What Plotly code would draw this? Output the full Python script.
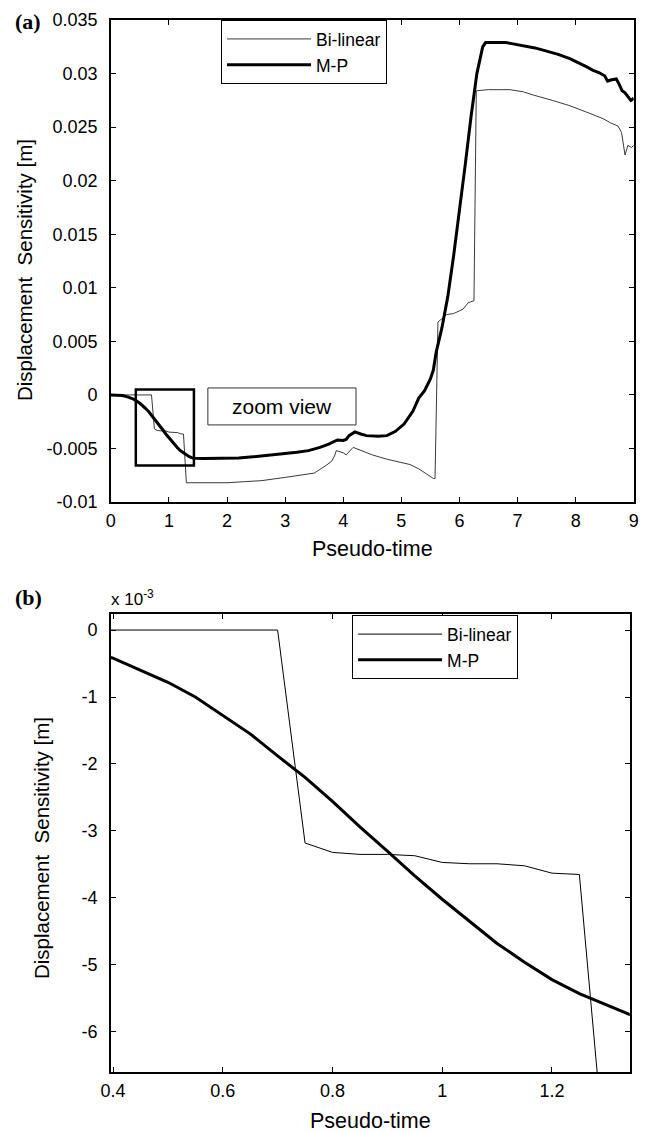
import plotly.graph_objects as go

# values, sensitivity in units of 1e-3 m
t_mp = [0, 0.1, 0.2, 0.3, 0.4, 0.5, 0.55, 0.6, 0.65, 0.7, 0.75, 0.8, 0.85, 0.9, 0.95,
        1.0, 1.05, 1.1, 1.15, 1.2, 1.25, 1.3, 1.35, 1.4, 1.45, 1.6, 1.8, 2.0, 2.2, 2.4,
        2.6, 2.8, 3.0, 3.2, 3.4, 3.6, 3.75, 3.85, 3.9, 4.0, 4.05, 4.1, 4.2, 4.3, 4.4,
        4.6, 4.75, 4.9, 5.05, 5.2, 5.3, 5.4, 5.5, 5.55, 5.6, 5.7, 5.8, 5.9, 6.0, 6.1,
        6.2, 6.3, 6.4, 6.45, 6.6, 6.8, 6.9, 7.1, 7.3, 7.5, 7.7, 7.9, 8.1, 8.2, 8.3,
        8.4, 8.5, 8.55, 8.6, 8.7, 8.75, 8.8, 8.85, 8.9, 8.95, 9.0]
s_mp = [0, -0.01, -0.06, -0.2, -0.42, -0.78, -1.0, -1.27, -1.55, -1.88, -2.2, -2.56,
        -2.94, -3.3, -3.67, -4.02, -4.35, -4.68, -4.96, -5.22, -5.43, -5.6, -5.77,
        -5.88, -5.92, -5.93, -5.93, -5.93, -5.9, -5.8, -5.7, -5.6, -5.45, -5.35, -5.2,
        -4.9, -4.6, -4.35, -4.2, -4.25, -4.15, -3.8, -3.45, -3.65, -3.8, -3.85, -3.8,
        -3.4, -2.7, -1.5, -0.3, 0.4, 1.5, 2.3, 4.0, 6.3, 9.2, 13.0, 17.0, 21.5, 26.0,
        30.0, 32.5, 32.9, 32.9, 32.9, 32.8, 32.6, 32.4, 32.1, 31.8, 31.4, 30.9, 30.6,
        30.3, 30.1, 29.8, 29.3, 29.4, 29.5, 29.0, 28.4, 28.2, 27.8, 27.5, 27.7]

t_bl = [0, 0.7, 0.75, 0.8, 0.85, 0.9, 0.95, 1.0, 1.05, 1.1, 1.15, 1.2, 1.25, 1.3, 1.6,
        2.0, 2.3, 2.6, 3.0, 3.3, 3.5, 3.7, 3.8, 3.85, 3.88, 4.0, 4.05, 4.17, 4.3, 4.5,
        4.75, 5.0, 5.15, 5.3, 5.45, 5.55, 5.58, 5.63, 5.78, 5.9, 6.06, 6.15, 6.25, 6.29,
        6.5, 6.87, 7.1, 7.27, 7.6, 7.9, 8.19, 8.47, 8.6, 8.73, 8.79, 8.85, 8.9, 8.96, 9.0]
s_bl = [0, 0, -3.18, -3.32, -3.35, -3.35, -3.37, -3.47, -3.49, -3.49, -3.52, -3.63,
        -3.65, -8.2, -8.2, -8.2, -8.1, -8.0, -7.7, -7.5, -7.3, -6.6, -6.2, -5.7, -5.2,
        -5.4, -5.6, -4.9, -5.2, -5.6, -6.0, -6.3, -6.5, -6.9, -7.4, -7.8, -7.8, 6.8,
        7.5, 7.6, 8.0, 8.6, 8.8, 28.4, 28.5, 28.5, 28.3, 28.0, 27.5, 27.0, 26.4, 25.8,
        25.4, 25.1, 24.5, 22.4, 23.3, 23.1, 23.3]

xticks_a = [0, 1, 2, 3, 4, 5, 6, 7, 8, 9]
yticks_a = [-0.01, -0.005, 0, 0.005, 0.01, 0.015, 0.02, 0.025, 0.03, 0.035]
ylabels_a = ["-0.01", "-0.005", "0", "0.005", "0.01", "0.015", "0.02", "0.025", "0.03", "0.035"]
xticks_b = [0.4, 0.6, 0.8, 1.0, 1.2]
xlabels_b = ["0.4", "0.6", "0.8", "1", "1.2"]
yticks_b = [-6, -5, -4, -3, -2, -1, 0]
ylabels_b = ["-6", "-5", "-4", "-3", "-2", "-1", "0"]

FONT = "Liberation Sans, Arial, sans-serif"

fig = go.Figure()

# (a) full range, metres
fig.add_trace(go.Scatter(x=t_bl, y=[v / 1000 for v in s_bl], mode="lines", name="Bi-linear",
                         line=dict(color="#3a3a3a", width=1), legend="legend"))
fig.add_trace(go.Scatter(x=t_mp, y=[v / 1000 for v in s_mp], mode="lines", name="M-P",
                         line=dict(color="black", width=3), legend="legend"))
# (b) zoom, 1e-3 m
fig.add_trace(go.Scatter(x=t_bl, y=s_bl, mode="lines", name="Bi-linear", xaxis="x2", yaxis="y2",
                         line=dict(color="black", width=1), legend="legend2"))
fig.add_trace(go.Scatter(x=t_mp, y=s_mp, mode="lines", name="M-P", xaxis="x2", yaxis="y2",
                         line=dict(color="black", width=3), legend="legend2"))

ax = dict(showgrid=False, zeroline=False, showline=True, linecolor="black", linewidth=1.5,
          mirror="ticks", ticks="inside", ticklen=5, tickcolor="black", automargin=False,
          tickfont=dict(family=FONT, size=18, color="black"))
xax = dict(ax, ticklabelstandoff=2)
yax = dict(ax, ticklabelstandoff=8)

leg = dict(bgcolor="white", bordercolor="black", borderwidth=1, xanchor="left", yanchor="top",
           font=dict(family=FONT, size=17.5, color="black"), itemwidth=84, tracegroupgap=0)

fig.update_layout(
    template="none",
    width=652, height=1133, margin=dict(l=0, r=0, t=0, b=0, autoexpand=False),
    paper_bgcolor="white", plot_bgcolor="white", showlegend=True,
    xaxis=dict(xax, domain=[0.170, 0.972], anchor="y", range=[0, 9],
               tickvals=xticks_a, ticktext=[str(v) for v in xticks_a]),
    yaxis=dict(yax, domain=[0.5569, 0.9823], anchor="x", range=[-0.01, 0.035],
               tickvals=yticks_a, ticktext=ylabels_a),
    xaxis2=dict(xax, domain=[0.170, 0.966], anchor="y2", range=[0.396, 1.342],
                tickvals=xticks_b, ticktext=xlabels_b),
    yaxis2=dict(yax, domain=[0.0538, 0.4581], anchor="x2", range=[-6.6, 0.24],
                tickvals=yticks_b, ticktext=ylabels_b),
    legend=dict(leg, x=0.339, y=0.9823),
    legend2=dict(leg, x=0.540, y=0.457),
)

# zoom window and its label on (a)
fig.add_shape(type="rect", xref="x", yref="y", x0=0.43, x1=1.43, y0=-0.0066, y1=0.0005,
              line=dict(color="black", width=2.5))
fig.add_shape(type="rect", xref="x", yref="y", x0=1.67, x1=4.22, y0=-0.0028, y1=0.00065,
              line=dict(color="#333", width=1))
fig.add_annotation(x=2.95, y=-0.00108, xref="x", yref="y", text="zoom view", showarrow=False,
                   xanchor="center", yanchor="middle",
                   font=dict(family=FONT, size=21, color="black"))


def paper_note(px, py, text, font, angle=0, xanchor="center"):
    fig.add_annotation(x=px / 652, y=1 - py / 1133, xref="paper", yref="paper", text=text,
                       showarrow=False, textangle=angle, xanchor=xanchor, yanchor="middle",
                       font=font)


title_font = dict(family=FONT, size=21.5, color="black")
ytitle_font = dict(family=FONT, size=20.5, color="black")
paper_note((111 + 634) / 2, 549, "Pseudo-time", title_font)
paper_note((111 + 630) / 2, 1121, "Pseudo-time", title_font)
paper_note(24, 270, "Displacement  Sensitivity [m]", ytitle_font, angle=-90)
paper_note(41, 848, "Displacement  Sensitivity [m]", ytitle_font, angle=-90)

panel_font = dict(family="Liberation Serif, Times New Roman, serif", size=22, color="black")
paper_note(13, 22, "<b>(a)</b>", panel_font, xanchor="left")
paper_note(13, 597, "<b>(b)</b>", panel_font, xanchor="left")
paper_note(109, 598, "x 10<sup>-3</sup>", dict(family=FONT, size=17, color="black"),
           xanchor="left")

# drop the browser's default body margin so the figure sits at the page origin
fig.write_html("out.html", config={"displayModeBar": False},
               post_script="document.body.style.margin='0';")
